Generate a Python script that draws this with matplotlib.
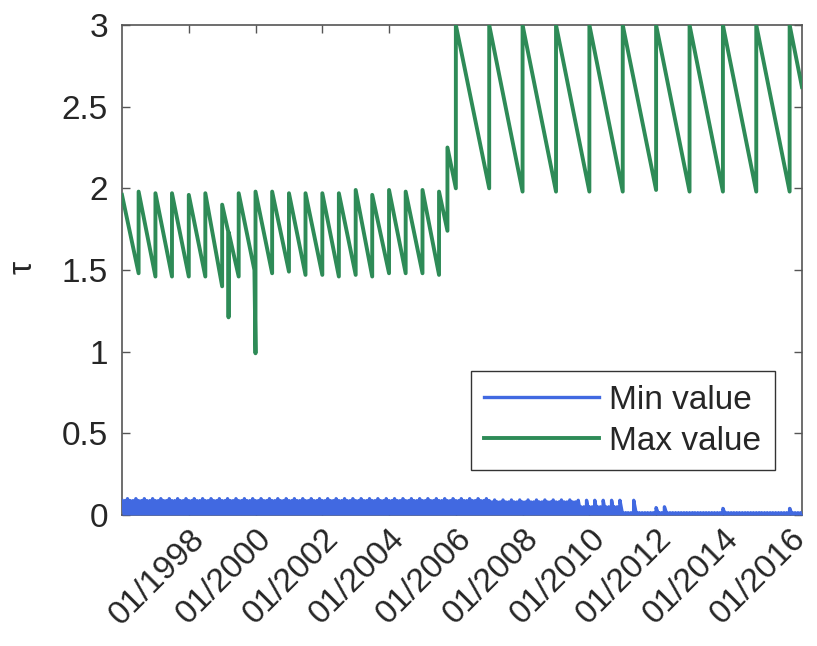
import numpy as np
import pandas as pd
import matplotlib
matplotlib.use('Agg')
import matplotlib.pyplot as plt
import matplotlib.dates as mdates
import matplotlib.transforms as mtransforms

# Max value: roll dates with the value just before and just after each roll
green_start = ('1996-01-01', 1.96)
green_end = ('2016-05-15', 2.62)
green_roll = ['1996-07-01', '1997-01-01', '1997-07-01', '1998-01-01', '1998-07-01',
              '1999-01-01', '1999-07-01', '2000-01-01', '2000-07-01', '2001-01-01',
              '2001-07-01', '2002-01-01', '2002-07-01', '2003-01-01', '2003-07-01',
              '2004-01-01', '2004-07-01', '2005-01-01', '2005-07-01', '2005-10-01',
              '2006-01-01', '2007-01-01', '2008-01-01', '2009-01-01', '2010-01-01',
              '2011-01-01', '2012-01-01', '2013-01-01', '2014-01-01', '2015-01-01',
              '2016-01-01']
green_before = [1.48, 1.46, 1.46, 1.46, 1.46, 1.40, 1.46, 0.99, 1.48, 1.49,
                1.47, 1.47, 1.46, 1.47, 1.46, 1.48, 1.48, 1.48, 1.47, 1.74,
                2.00, 2.00, 1.98, 1.98, 1.98, 1.98, 1.99, 1.98, 1.98, 1.98, 1.98]
green_after = [1.98, 1.97, 1.97, 1.96, 1.97, 1.90, 1.97, 1.98, 1.98, 1.97,
               1.97, 1.97, 1.97, 1.99, 1.96, 1.99, 1.98, 1.99, 1.98, 2.25,
               3.00, 3.00, 3.00, 3.00, 3.00, 3.00, 3.00, 3.00, 3.00, 3.00, 3.00]
# odd points (drops) between rolls
green_extra_dates = ['1999-03-10', '1999-03-12', '1999-03-14', '1999-12-20']
green_extra_vals = [1.73, 1.21, 1.73, 1.50]

# Min value: monthly saw, peak level per period
blue_breaks = ['1996-01-01', '2007-02-01', '2009-09-01', '2011-01-01', '2016-06-01']
blue_month_peak = [0.088, 0.080, 0.050, 0.014]
blue_quarter_peak = [0.100, 0.092, 0.090, 0.014]
blue_spike_dates = ['2011-05-01', '2012-01-01', '2012-04-01', '2014-01-01', '2016-01-01']
blue_spike_vals = [0.090, 0.045, 0.050, 0.040, 0.040]

tick_years = [1998, 2000, 2002, 2004, 2006, 2008, 2010, 2012, 2014, 2016]

# build green vertices
g = [(pd.Timestamp(green_start[0]), 0, green_start[1])]
for d, b, a in zip(green_roll, green_before, green_after):
    g.append((pd.Timestamp(d), 0, b))
    g.append((pd.Timestamp(d), 1, a))
for d, v in zip(green_extra_dates, green_extra_vals):
    g.append((pd.Timestamp(d), 0, v))
g.append((pd.Timestamp(green_end[0]), 0, green_end[1]))
g.sort(key=lambda t: (t[0], t[1]))
gx = [t[0] for t in g]
gy = [t[2] for t in g]

# build blue vertices
brk = pd.to_datetime(blue_breaks)
spikes = dict(zip(pd.to_datetime(blue_spike_dates), blue_spike_vals))
months = pd.date_range(brk[0], brk[-1], freq='MS')
bx, by = [], []
for i in range(len(months) - 1):
    m = months[i]
    k = np.searchsorted(brk, m, side='right') - 1
    pk = blue_quarter_peak[k] if m.month in (3, 6, 9, 12) else blue_month_peak[k]
    pk = spikes.get(m, pk)
    bx += [m, months[i + 1] - pd.Timedelta(days=1)]
    by += [pk, 0.0]

plt.rcParams['font.family'] = ['Liberation Sans', 'DejaVu Sans']
fig = plt.figure(figsize=(8.17, 6.46), dpi=100)
ax = fig.add_axes([0.1493, 0.2028, 0.8323, 0.7585])

blue = '#4169e1'
green = '#2e8b57'
ax.fill_between(bx, by, 0, color=blue, lw=0, zorder=3)
ax.plot(bx, by, color=blue, lw=2.4, label='Min value', zorder=3)
ax.plot(gx, gy, color=green, lw=2.8, label='Max value', zorder=3)

ax.set_xlim(pd.Timestamp('1996-01-01'), pd.Timestamp('2016-05-15'))
ax.set_ylim(0, 3)
ax.set_yticks(np.arange(0, 3.01, 0.5))
ax.set_yticklabels(['%g' % v for v in np.arange(0, 3.01, 0.5)])
ax.set_xticks([pd.Timestamp('%d-01-01' % y) for y in tick_years])
ax.xaxis.set_major_formatter(mdates.DateFormatter('%m/%Y'))
shift = mtransforms.ScaledTranslation(5 / 100, 0, fig.dpi_scale_trans)
for lab in ax.get_xticklabels():
    lab.set_rotation(45)
    lab.set_ha('right')
    lab.set_va('top')
    lab.set_rotation_mode('anchor')
    lab.set_transform(lab.get_transform() + shift)

ax.tick_params(direction='in', length=6, width=1.0, colors='#555555',
               labelcolor='#262626', labelsize=24, top=True, right=True)
ax.tick_params(axis='y', pad=10)
ax.tick_params(axis='x', pad=6)
for s in ax.spines.values():
    s.set_color('#555555')
    s.set_linewidth(1.2)

ax.set_ylabel('τ', fontsize=24, color='#262626')
ax.yaxis.set_label_coords(-0.123, 0.505)

leg = ax.legend(loc='lower right', bbox_to_anchor=(0.96, 0.092), borderaxespad=0,
                fontsize=24, handlelength=3.45, handletextpad=0.3, labelspacing=0.3,
                fancybox=False, framealpha=1, edgecolor='#333333', borderpad=0.4)
leg.get_frame().set_linewidth(1.0)
for t in leg.get_texts():
    t.set_color('#262626')

fig.savefig('out.png', dpi=100)
